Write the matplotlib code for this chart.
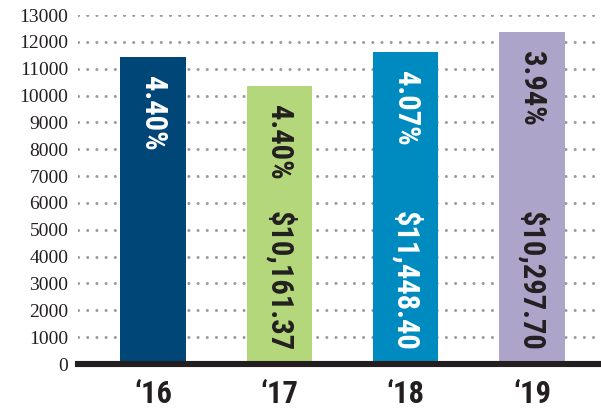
import matplotlib
matplotlib.use('Agg')
import matplotlib.pyplot as plt
from matplotlib import font_manager

# data
years = ["\u201816", "\u201817", "\u201818", "\u201819"]
totals = [11430, 10350, 11620, 12360]
rates = ["4.40%", "4.40%", "4.07%", "3.94%"]
amounts = ["", "$10,161.37", "$11,448.40", "$10,297.70"]
colors = ["#004677", "#b3d77a", "#008bc0", "#ada5c9"]
text_colors = ["white", "#231f20", "white", "#231f20"]
yticks = list(range(0, 14000, 1000))

# pick a narrow bold face if one is installed
installed = {f.name for f in font_manager.fontManager.ttflist}
narrow = 'Roboto'
for cand in ['Liberation Sans Narrow', 'Roboto Condensed', 'Open Sans Condensed', 'DejaVu Sans Condensed']:
    if cand in installed:
        narrow = cand
        break
label_size = 22 if narrow != 'Roboto' else 20

fig = plt.figure(figsize=(6.01, 4.09), dpi=100)
ax = fig.add_axes([0.13, 0.11, 0.87, 0.853])

x = range(len(years))
ax.bar(x, totals, width=0.52, color=colors, zorder=2)

# dotted grid
for t in yticks[1:]:
    ax.axhline(t, color='#9a9a9a', lw=2.2,
               ls=(0, (0.01, 3.0)), dash_capstyle='round', zorder=1)
ax.axhline(0, color='#231f20', lw=4.4, zorder=3, clip_on=False)

for i in x:
    ax.text(i, totals[i] - 700, rates[i], rotation=-90, ha='center', va='top',
            color=text_colors[i], fontsize=label_size, fontweight='bold', family=narrow)
    if amounts[i]:
        ax.text(i, 480, amounts[i], rotation=-90, ha='center', va='bottom',
                color=text_colors[i], fontsize=label_size, fontweight='bold', family=narrow)

ax.set_xlim(-0.594, 3.547)
ax.set_ylim(0, 13000)
ax.set_yticks(yticks)
ax.set_yticklabels([str(t) for t in yticks], family='Liberation Serif', fontsize=14, color='#231f20')
ax.set_xticks(list(x))
ax.set_xticklabels(years, family=narrow, fontsize=22, fontweight='bold', color='#231f20')
ax.tick_params(axis='both', length=0)
ax.tick_params(axis='y', pad=7)
ax.tick_params(axis='x', pad=11)
for s in ax.spines.values():
    s.set_visible(False)

fig.savefig('out.png', dpi=100)
